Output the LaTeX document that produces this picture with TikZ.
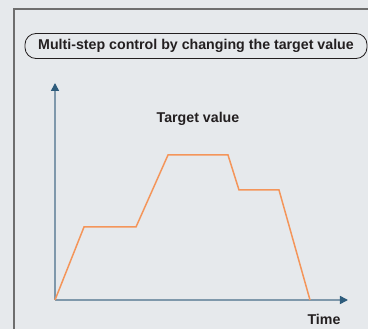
\documentclass[tikz,border=0pt]{standalone}
\usepackage{fontspec}
\setmainfont{Liberation Sans}
\usepackage{tikz}
\usetikzlibrary{arrows.meta}
\definecolor{bgcol}{HTML}{E6E9EC}
\definecolor{framecol}{HTML}{6E6E6E}
\definecolor{axiscol}{HTML}{7F98AB}
\definecolor{tipcol}{HTML}{2E5C7C}
\definecolor{curvecol}{HTML}{F4955A}
\definecolor{textcol}{HTML}{231F20}

\begin{document}
\begin{tikzpicture}[x=1pt,y=-1pt,
  lbl/.style={font=\fontsize{14.2}{16}\selectfont\bfseries,text=textcol,inner sep=0pt},
  axis/.style={draw=axiscol,line width=1.5pt,-{Triangle[length=8pt,width=8pt,color=tipcol]}}]
\useasboundingbox (0,0) rectangle (368,329);
\fill[bgcol] (0,0) rectangle (368,329);
\clip (0,0) rectangle (368,329);
% outer frame
\draw[framecol,line width=1.5pt] (14,340) -- (14,9) -- (380,9);
% title
\node[lbl,draw=textcol,line width=0.8pt,rounded corners=11pt,minimum width=342pt,minimum height=25pt](title) at (196,46){Multi-step control by changing the target value};
% axes
\coordinate (o) at (55,300);
\coordinate (ytop) at (55,83);
\coordinate (xend) at (348,300);
\draw[axis] (o) -- (ytop);
\draw[axis] (o) -- (xend);
\node[lbl](ylabel) at (198,119){Target value};
\node[lbl](xlabel) at (324,319){Time};
% target value curve
\coordinate (p1) at (84,227);
\coordinate (p2) at (136,227);
\coordinate (p3) at (168,155);
\coordinate (p4) at (228,155);
\coordinate (p5) at (239,190);
\coordinate (p6) at (279,190);
\coordinate (p7) at (310,300);
\draw[curvecol,line width=1.5pt] (o) -- (p1) -- (p2) -- (p3) -- (p4) -- (p5) -- (p6) -- (p7);
\end{tikzpicture}
\end{document}
